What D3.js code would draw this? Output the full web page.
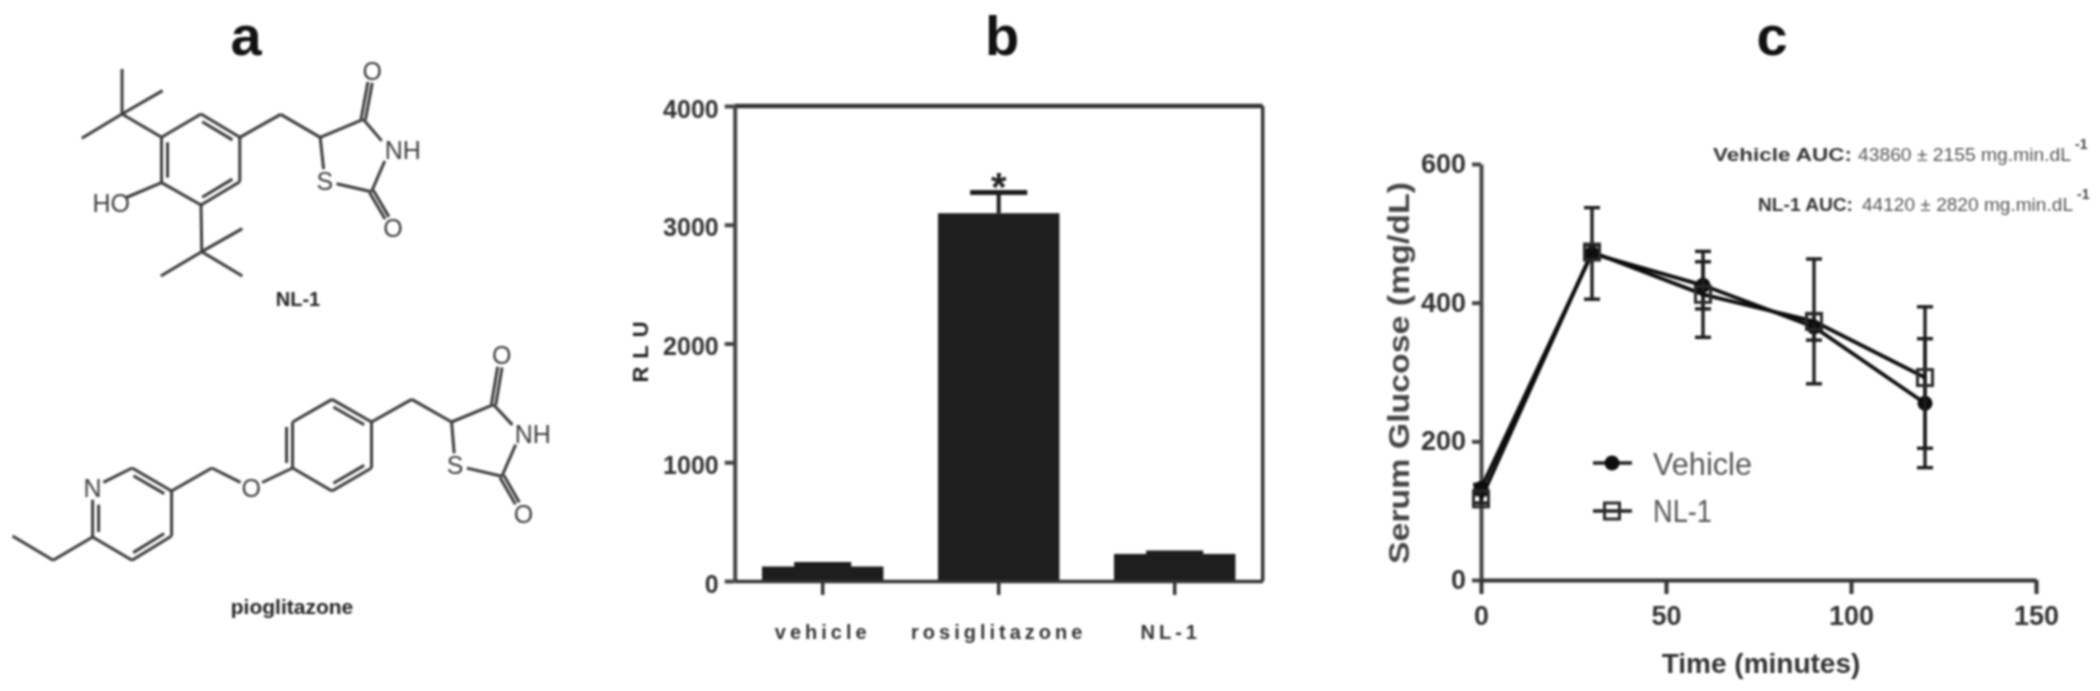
<!DOCTYPE html>
<html lang="en">
  <head>
    <meta charset="UTF-8" />
    <title>NL-1 figure</title>
    <style>
      html, body { margin: 0; padding: 0; background: #fff; }
      svg { display: block; filter: blur(0.9px); }
      text { font-family: "Liberation Sans", Arial, sans-serif; }
    </style>
  </head>
  <body>
    <svg id="svg" width="2100" height="691"></svg>

    <script src="https://cdn.jsdelivr.net/npm/d3@7"></script>
    <script>
      const WIDTH = 2100;
      const HEIGHT = 691;

      // panel b values
      const BAR_CATEGORIES = ["vehicle", "rosiglitazone", "NL-1"];
      const BAR_VALUES = [122, 3097, 228];
      const BAR_ERR_TOPS = [140, 3272, 236];
      const BAR_TICKS = [0, 1000, 2000, 3000, 4000];

      // panel c values
      const TIMES = [0, 30, 60, 90, 120];
      const VEHICLE_MEAN = [132, 471, 425, 365, 255];
      const VEHICLE_ERR = [6, 66, 34, 19, 93];
      const NL1_MEAN = [117, 473, 412, 373, 292];
      const NL1_ERR = [6, 10, 62, 90, 102];
      const TIME_TICKS = [0, 50, 100, 150];
      const GLUCOSE_TICKS = [0, 200, 400, 600];

      // structures: atoms in drawing units, bonds as [from, to, order]
      const NL1_ATOMS = {
        c1: [450, 412], c2: [560, 342], c3: [668, 412], c4: [668, 545], c5: [560, 615], c6: [450, 548],
        t1: [340, 342], t1a: [340, 207], t1b: [453, 272], t1c: [228, 415],
        t2: [562, 755], t2a: [675, 686], t2b: [675, 828], t2c: [448, 828],
        oh: [318, 608], ch2: [782, 343], r5: [892, 412], r4: [1012, 358], nh: [1085, 450], r2: [1035, 575], s: [905, 543],
        o1: [1037, 212], o2: [1095, 685],
      };
      const NL1_BONDS = [
        ["c1", "c2", 1], ["c2", "c3", 2], ["c3", "c4", 1], ["c4", "c5", 2], ["c5", "c6", 1], ["c6", "c1", 2],
        ["c1", "t1", 1], ["t1", "t1a", 1], ["t1", "t1b", 1], ["t1", "t1c", 1],
        ["c5", "t2", 1], ["t2", "t2a", 1], ["t2", "t2b", 1], ["t2", "t2c", 1],
        ["c6", "oh", 1], ["c3", "ch2", 1], ["ch2", "r5", 1], ["r5", "r4", 1], ["r4", "nh", 1], ["nh", "r2", 1], ["r2", "s", 1], ["s", "r5", 1],
        ["r4", "o1", 3], ["r2", "o2", 3],
      ];
      const NL1_LABELS = [["oh", "HO", "end", 362], ["nh", "NH", "start", 1072], ["s", "S", "middle", 905], ["o1", "O", "middle", 1037], ["o2", "O", "middle", 1095]];

      const PIO_ATOMS = {
        n: [258, 437], p1: [368, 378], p2: [478, 447], p3: [478, 582], p4: [368, 655], p5: [258, 585],
        e1: [148, 655], e2: [35, 582], ch2a: [590, 378], o: [700, 437],
        b1: [815, 378], b2: [815, 240], b3: [925, 172], b4: [1035, 240], b5: [1035, 378], b6: [925, 447],
        ch2b: [1147, 172], r5: [1258, 240], r4: [1375, 188], nh: [1450, 275], r2: [1398, 403], s: [1268, 370],
        o1: [1398, 40], o2: [1458, 515],
      };
      const PIO_BONDS = [
        ["n", "p1", 1], ["p1", "p2", 2], ["p2", "p3", 1], ["p3", "p4", 2], ["p4", "p5", 1], ["p5", "n", 2],
        ["p5", "e1", 1], ["e1", "e2", 1], ["p2", "ch2a", 1], ["ch2a", "o", 1], ["o", "b1", 1],
        ["b1", "b2", 2], ["b2", "b3", 1], ["b3", "b4", 2], ["b4", "b5", 1], ["b5", "b6", 2], ["b6", "b1", 1],
        ["b4", "ch2b", 1], ["ch2b", "r5", 1], ["r5", "r4", 1], ["r4", "nh", 1], ["nh", "r2", 1], ["r2", "s", 1], ["s", "r5", 1],
        ["r4", "o1", 3], ["r2", "o2", 3],
      ];
      const PIO_LABELS = [["n", "N", "middle", 258], ["o", "O", "middle", 700], ["nh", "NH", "start", 1434], ["s", "S", "middle", 1268], ["o1", "O", "middle", 1398], ["o2", "O", "middle", 1458]];

      const svg = d3.select("#svg");

      function panelLetter(text, x) {
        svg.append("text").attr("x", x).attr("y", 55).attr("text-anchor", "middle")
          .attr("font-size", 56).attr("font-weight", "bold").attr("fill", "#111").text(text);
      }

      function styleAxis(g, color, width) {
        g.selectAll("path, line").attr("stroke", color).attr("stroke-width", width);
      }

      // Panel a
      function drawMolecule(atoms, bonds, labels, name, originY, nameX, nameY, nameSize) {
        const sx = d3.scaleLinear().domain([0, 1560]).range([0, 560]);
        const sy = d3.scaleLinear().domain([0, 1020]).range([originY, originY + 340]);
        const g = svg.append("g");
        const labelled = new Set(labels.map((d) => d[0]));
        const gap = 12;

        function addLine(a, b) {
          g.append("line").attr("x1", a[0]).attr("y1", a[1]).attr("x2", b[0]).attr("y2", b[1])
            .attr("stroke", "#3c3c3c").attr("stroke-width", 3);
        }

        bonds.forEach(([from, to, order]) => {
          let a = [sx(atoms[from][0]), sy(atoms[from][1])];
          let b = [sx(atoms[to][0]), sy(atoms[to][1])];
          const len = Math.hypot(b[0] - a[0], b[1] - a[1]);
          const ux = (b[0] - a[0]) / len;
          const uy = (b[1] - a[1]) / len;
          if (labelled.has(from)) a = [a[0] + ux * gap, a[1] + uy * gap];
          if (labelled.has(to)) b = [b[0] - ux * gap, b[1] - uy * gap];
          if (order === 3) {
            // C=O, two lines either side of the bond axis
            addLine([a[0] - uy * 2.2, a[1] + ux * 2.2], [b[0] - uy * 2.2, b[1] + ux * 2.2]);
            addLine([a[0] + uy * 2.2, a[1] - ux * 2.2], [b[0] + uy * 2.2, b[1] - ux * 2.2]);
            return;
          }
          addLine(a, b);
          if (order === 2) {
            // inner line of an aromatic double bond, pulled towards the ring
            const ring = bonds.filter((d) => d[2] < 3 && (d[0] === from || d[1] === from || d[0] === to || d[1] === to))
              .flatMap((d) => [d[0], d[1]])
              .filter((d) => d !== from && d !== to);
            const mx = (a[0] + b[0]) / 2;
            const my = (a[1] + b[1]) / 2;
            const rc = [d3.mean(ring.slice(0, 2), (d) => sx(atoms[d][0])), d3.mean(ring.slice(0, 2), (d) => sy(atoms[d][1]))];
            const side = (-uy * (rc[0] - mx) + ux * (rc[1] - my)) > 0 ? 1 : -1;
            const ox = -uy * 6 * side;
            const oy = ux * 6 * side;
            addLine([a[0] + ox + ux * 5, a[1] + oy + uy * 5], [b[0] + ox - ux * 5, b[1] + oy - uy * 5]);
          }
        });

        labels.forEach(([key, text, anchor, lx]) => {
          g.append("text").attr("x", sx(lx)).attr("y", sy(atoms[key][1]) + 9).attr("text-anchor", anchor)
            .attr("font-size", 25).attr("fill", "#3c3c3c").text(text);
        });
        g.append("text").attr("x", nameX).attr("y", nameY).attr("text-anchor", "middle")
          .attr("font-size", nameSize).attr("font-weight", "bold").attr("fill", "#222").text(name);
      }

      panelLetter("a", 246);
      drawMolecule(NL1_ATOMS, NL1_BONDS, NL1_LABELS, "NL-1", 0, 298, 306, 20);
      drawMolecule(PIO_ATOMS, PIO_BONDS, PIO_LABELS, "pioglitazone", 342, 292, 614, 21);

      // Panel b
      panelLetter("b", 1002);
      const barX = d3.scaleBand().domain(BAR_CATEGORIES).range([734.7, 1262.7]).paddingInner(0.31).paddingOuter(0.155);
      const barY = d3.scaleLinear().domain([0, 4000]).range([581, 106]);

      const barG = svg.append("g");
      barG.selectAll("rect").data(BAR_CATEGORIES).join("rect")
        .attr("x", (d) => barX(d))
        .attr("y", (d, i) => barY(BAR_VALUES[i]))
        .attr("width", barX.bandwidth())
        .attr("height", (d, i) => barY(0) - barY(BAR_VALUES[i]))
        .attr("fill", "#1e1e1e");

      const capWidth = barX.bandwidth() * 0.47;
      BAR_CATEGORIES.forEach((d, i) => {
        const cx = barX(d) + barX.bandwidth() / 2;
        barG.append("line").attr("x1", cx).attr("x2", cx).attr("y1", barY(BAR_VALUES[i])).attr("y2", barY(BAR_ERR_TOPS[i]))
          .attr("stroke", "#1e1e1e").attr("stroke-width", 4);
        barG.append("line").attr("x1", cx - capWidth / 2).attr("x2", cx + capWidth / 2).attr("y1", barY(BAR_ERR_TOPS[i])).attr("y2", barY(BAR_ERR_TOPS[i]))
          .attr("stroke", "#1e1e1e").attr("stroke-width", 5);
      });
      barG.append("text").attr("x", barX("rosiglitazone") + barX.bandwidth() / 2).attr("y", 201).attr("text-anchor", "middle")
        .attr("font-size", 40).attr("font-weight", "bold").attr("fill", "#222").text("*");

      // frame: top and right edges follow the axis domains
      const frame = svg.append("g").attr("fill", "none").attr("stroke", "#333").attr("stroke-width", 3.5);
      frame.append("line").attr("x1", barX.range()[0]).attr("x2", barX.range()[1]).attr("y1", barY(4000)).attr("y2", barY(4000)).attr("stroke-width", 4.5);
      frame.append("line").attr("x1", barX.range()[1]).attr("x2", barX.range()[1]).attr("y1", barY(4000)).attr("y2", barY(0));

      const barLeft = svg.append("g").attr("transform", "translate(734.7,0)")
        .call(d3.axisLeft(barY).tickValues(BAR_TICKS).tickFormat(d3.format("d")).tickSize(10).tickPadding(6).tickSizeOuter(0));
      styleAxis(barLeft, "#444", 4);
      barLeft.selectAll("text").attr("font-size", 25).attr("font-weight", "bold").attr("dy", "0.44em").attr("fill", "#333").attr("font-family", "Liberation Sans");

      const barBottom = svg.append("g").attr("transform", "translate(0,581)")
        .call(d3.axisBottom(barX).tickSize(14).tickPadding(30).tickSizeOuter(0));
      styleAxis(barBottom, "#333", 3.5);
      barBottom.selectAll("text").attr("font-size", 20).attr("font-weight", "bold").attr("letter-spacing", 4).attr("fill", "#333").attr("font-family", "Liberation Sans");
      barBottom.selectAll("text").filter((d) => d === "NL-1").attr("dx", -4);

      svg.append("text").attr("transform", "translate(648,348) rotate(-90)").attr("text-anchor", "middle")
        .attr("font-size", 22).attr("font-weight", "bold").attr("letter-spacing", 8).attr("fill", "#222").text("RLU");

      // Panel c
      panelLetter("c", 1772);
      const timeX = d3.scaleLinear().domain([0, 150]).range([1481, 2036]);
      const glucoseY = d3.scaleLinear().domain([0, 600]).range([580, 164]);

      const cLeft = svg.append("g").attr("transform", "translate(1481,0)")
        .call(d3.axisLeft(glucoseY).tickValues(GLUCOSE_TICKS).tickSize(9).tickPadding(6).tickSizeOuter(0));
      styleAxis(cLeft, "#444", 4);
      cLeft.selectAll("text").attr("font-size", 27).attr("font-weight", "bold").attr("fill", "#333").attr("font-family", "Liberation Sans");

      const cBottom = svg.append("g").attr("transform", "translate(0,580)")
        .call(d3.axisBottom(timeX).tickValues(TIME_TICKS).tickSize(14).tickPadding(12).tickSizeOuter(0));
      styleAxis(cBottom, "#333", 4);
      cBottom.selectAll("text").attr("font-size", 27).attr("font-weight", "bold").attr("fill", "#333").attr("font-family", "Liberation Sans");

      svg.append("text").attr("transform", "translate(1409,373) rotate(-90)").attr("text-anchor", "middle")
        .attr("font-size", 29).attr("font-weight", "bold").attr("fill", "#444")
        .attr("textLength", 382).attr("lengthAdjust", "spacingAndGlyphs").text("Serum Glucose (mg/dL)");
      svg.append("text").attr("x", 1761).attr("y", 673).attr("text-anchor", "middle")
        .attr("font-size", 28).attr("font-weight", "bold").attr("fill", "#333").text("Time (minutes)");

      function drawSeries(means, errs) {
        const g = svg.append("g");
        const line = d3.line().x((d, i) => timeX(TIMES[i])).y((d) => glucoseY(d));
        TIMES.forEach((t, i) => {
          const x = timeX(t);
          const top = glucoseY(means[i] + errs[i]);
          const bottom = glucoseY(means[i] - errs[i]);
          g.append("line").attr("x1", x).attr("x2", x).attr("y1", top).attr("y2", bottom).attr("stroke", "#1c1c1c").attr("stroke-width", 3.4);
          [top, bottom].forEach((y) => {
            g.append("line").attr("x1", x - 8).attr("x2", x + 8).attr("y1", y).attr("y2", y).attr("stroke", "#1c1c1c").attr("stroke-width", 3.4);
          });
        });
        g.append("path").attr("d", line(means)).attr("fill", "none").attr("stroke", "#0d0d0d").attr("stroke-width", 3.8);
        return g;
      }

      function circleMark(g, x, y) {
        g.append("circle").attr("cx", x).attr("cy", y).attr("r", 7.5).attr("fill", "#0d0d0d");
      }
      function squareMark(g, x, y) {
        g.append("rect").attr("x", x - 7.5).attr("y", y - 8).attr("width", 15).attr("height", 16)
          .attr("fill", "none").attr("stroke", "#2a2a2a").attr("stroke-width", 3);
      }

      const vehicleG = drawSeries(VEHICLE_MEAN, VEHICLE_ERR);
      const nlG = drawSeries(NL1_MEAN, NL1_ERR);
      TIMES.forEach((t, i) => {
        circleMark(vehicleG, timeX(t), glucoseY(VEHICLE_MEAN[i]));
        squareMark(nlG, timeX(t), glucoseY(NL1_MEAN[i]));
      });

      // legend
      const legend = svg.append("g");
      [["Vehicle", 463, circleMark, 475, 99], ["NL-1", 511, squareMark, 522, 59]].forEach(([label, y, mark, base, w]) => {
        legend.append("line").attr("x1", 1593).attr("x2", 1632).attr("y1", y).attr("y2", y).attr("stroke", "#222").attr("stroke-width", 3.4);
        mark(legend, 1612, y);
        legend.append("text").attr("x", 1653).attr("y", base).attr("font-size", 32).attr("fill", "#555")
          .attr("textLength", w).attr("lengthAdjust", "spacingAndGlyphs").text(label);
      });

      // AUC notes
      const notes = svg.append("g").attr("font-size", 19).attr("fill", "#555");
      [
        ["Vehicle AUC:", 1713, 139, "43860 \u00B1 2155 mg.min.dL", 1858, 213, 161],
        ["NL-1 AUC:", 1758, 95, "44120 \u00B1 2820 mg.min.dL", 1862, 211, 211],
      ].forEach(([head, hx, hw, body, bx, bw, y]) => {
        notes.append("text").attr("x", hx).attr("y", y).attr("font-size", 19).attr("font-weight", "bold").attr("fill", "#333")
          .attr("textLength", hw).attr("lengthAdjust", "spacingAndGlyphs").text(head);
        notes.append("text").attr("x", bx).attr("y", y)
          .attr("textLength", bw).attr("lengthAdjust", "spacingAndGlyphs").text(body);
        notes.append("text").attr("x", bx + bw + 4).attr("y", y - 12).attr("font-size", 14).attr("font-weight", "bold").attr("fill", "#444").text("-1");
      });
    </script>
  </body>
</html>
